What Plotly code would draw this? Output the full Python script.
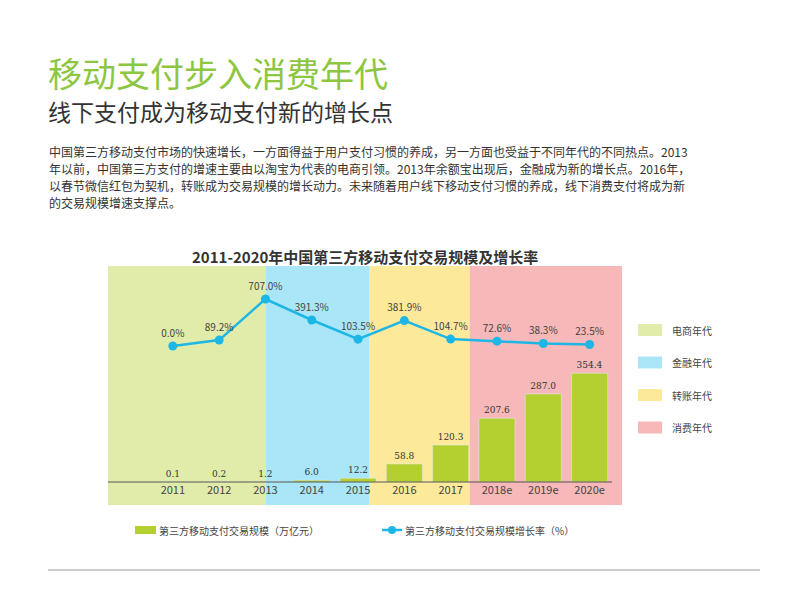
import plotly.graph_objects as go

years = ["2011", "2012", "2013", "2014", "2015", "2016", "2017", "2018e", "2019e", "2020e"]
scale = [0.1, 0.2, 1.2, 6.0, 12.2, 58.8, 120.3, 207.6, 287.0, 354.4]
growth = [0.0, 89.2, 707.0, 391.3, 103.5, 381.9, 104.7, 72.6, 38.3, 23.5]

eras = ["电商年代", "金融年代", "转账年代", "消费年代"]
era_colors = ["#e2ecaa", "#a9e6f7", "#fde99a", "#f6b8b8"]
era_bounds = [-1.4, 2.0, 4.25, 6.41, 9.7]

W, H = 800, 600
OFF = 8  # page body margin
L, R, T, B = 108 - OFF, 622 - OFF, 250 - OFF, 482 - OFF


def px(x):
    return (x - OFF - L) / (R - L)


def py(y):
    return (B - (y - OFF)) / (B - T)


fig = go.Figure()
fig.add_trace(go.Bar(
    x=list(range(10)), y=scale, marker_color="#b3cf30", width=0.78,
    text=[f"{v:.1f}" for v in scale], textposition="outside",
    textfont=dict(size=9, color="#333", family="DejaVu Serif"), cliponaxis=False,
    showlegend=False,
))
fig.add_trace(go.Scatter(
    x=list(range(10)), y=growth, yaxis="y2", mode="lines+markers+text",
    line=dict(color="#1db7e6", width=2.5), marker=dict(size=9, color="#1db7e6"),
    text=[f"{v:.1f}%" for v in growth], textposition="top center",
    textfont=dict(size=10, color="#444"), cliponaxis=False, showlegend=False,
))

shapes = []
for i in range(4):
    shapes.append(dict(type="rect", xref="x", yref="paper", x0=era_bounds[i], x1=era_bounds[i + 1],
                       y0=py(505), y1=py(266), fillcolor=era_colors[i], line_width=0, layer="below"))
shapes.append(dict(type="line", xref="paper", yref="paper", x0=0, x1=px(612), y0=0, y1=0,
                   line=dict(color="#555", width=1.2)))
annotations = []


def note(text, x, y, size, color="#444", anchor="left"):
    annotations.append(dict(text=text, xref="paper", yref="paper", x=px(x), y=py(y),
                            xanchor=anchor, yanchor="middle", showarrow=False,
                            font=dict(size=size, color=color)))


for i, name in enumerate(eras):
    yy = 330 + i * 32.5
    shapes.append(dict(type="rect", xref="paper", yref="paper", x0=px(638), x1=px(662),
                       y0=py(yy + 6), y1=py(yy - 6), fillcolor=era_colors[i], line_width=0))
    note(name, 670, yy, 10)

# bottom legend
shapes.append(dict(type="rect", xref="paper", yref="paper", x0=px(135), x1=px(156),
                   y0=py(534), y1=py(526), fillcolor="#b3cf30", line_width=0))
note("第三方移动支付交易规模（万亿元）", 157, 530, 10)
shapes.append(dict(type="line", xref="paper", yref="paper", x0=px(382), x1=px(402),
                   y0=py(530), y1=py(530), line=dict(color="#1db7e6", width=2.5)))
shapes.append(dict(type="circle", xref="paper", yref="paper", x0=px(388), x1=px(396),
                   y0=py(534), y1=py(526), fillcolor="#1db7e6", line_width=0))
note("第三方移动支付交易规模增长率（%）", 403, 530, 10)

note("<b>2011-2020年中国第三方移动支付交易规模及增长率</b>", 365, 256, 15, "#333", "center")
note("移动支付步入消费年代", 46, 72, 34, "#8dc63f")
note("线下支付成为移动支付新的增长点", 46, 111, 23, "#333")
para = [
    "中国第三方移动支付市场的快速增长，一方面得益于用户支付习惯的养成，另一方面也受益于不同年代的不同热点。2013",
    "年以前，中国第三方支付的增速主要由以淘宝为代表的电商引领。2013年余额宝出现后，金融成为新的增长点。2016年，",
    "以春节微信红包为契机，转账成为交易规模的增长动力。未来随着用户线下移动支付习惯的养成，线下消费支付将成为新",
    "的交易规模增速支撑点。",
]
for i, line in enumerate(para):
    note(line, 47, 151 + i * 17.3, 12, "#333")
shapes.append(dict(type="line", xref="paper", yref="paper", x0=px(48), x1=px(760), y0=py(570), y1=py(570),
                   line=dict(color="#999", width=1)))

fig.update_layout(
    width=W, height=H, margin=dict(l=L, r=W - R, t=T, b=H - B),
    paper_bgcolor="white", plot_bgcolor="rgba(0,0,0,0)",
    font=dict(family="Noto Sans CJK SC"),
    xaxis=dict(range=[-1.4, 9.7], tickvals=list(range(10)), ticktext=years, showgrid=False,
               zeroline=False, tickfont=dict(size=11, color="#444"), ticks=""),
    yaxis=dict(range=[0, 756], visible=False),
    yaxis2=dict(range=[-2045, 1444], overlaying="y", visible=False),
    shapes=shapes, annotations=annotations,
)
fig.write_html("out.html")
